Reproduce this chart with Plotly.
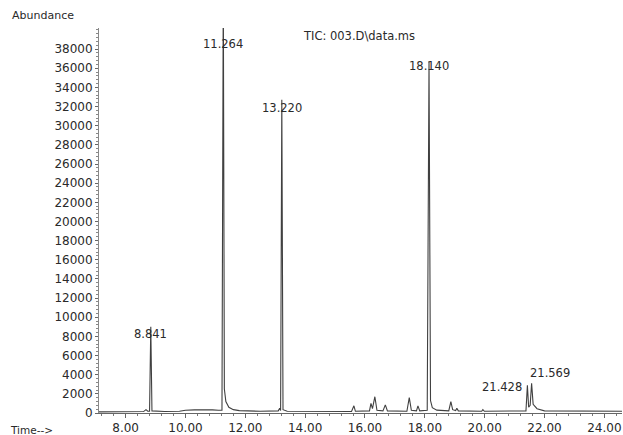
import plotly.graph_objects as go

# Chromatogram trace (time in min, abundance)
times = [7.11, 8.60, 8.68, 8.74, 8.80, 8.841, 8.88, 9.30, 9.80, 10.00, 10.30, 10.60, 10.90,
         11.10, 11.22, 11.264, 11.30, 11.35, 11.45, 11.60, 11.80, 12.50, 13.10, 13.15, 13.18,
         13.220, 13.26, 13.40, 15.55, 15.63, 15.68, 16.15, 16.20, 16.25, 16.33, 16.40, 16.60,
         16.68, 16.75, 17.40, 17.48, 17.55, 17.72, 17.77, 17.83, 18.08, 18.140, 18.19, 18.25,
         18.40, 18.80, 18.87, 18.93, 19.03, 19.07, 19.12, 19.90, 19.94, 19.99, 21.38, 21.428,
         21.47, 21.52, 21.569, 21.62, 21.75, 22.00, 24.59]
abundance = [120, 150, 350, 180, 180, 9000, 220, 150, 180, 280, 330, 360, 330,
             280, 300, 45000, 2500, 1200, 600, 350, 250, 180, 220, 500, 250,
             32700, 350, 180, 160, 750, 180, 220, 1000, 450, 1700, 280, 220,
             850, 220, 180, 1600, 280, 220, 750, 220, 280, 36700, 1300, 550,
             300, 220, 1200, 350, 250, 500, 220, 180, 350, 180, 220, 2900,
             600, 800, 3100, 900, 450, 220, 180]

peak_times = [8.841, 11.264, 13.220, 18.140, 21.428, 21.569]
peak_labels = ["8.841", "11.264", "13.220", "18.140", "21.428", "21.569"]
peak_heights = [9000, 45000, 32700, 36700, 2900, 3100]

y_ticks = list(range(0, 40000, 2000))
x_ticks = [8, 10, 12, 14, 16, 18, 20, 22, 24]
x_tick_labels = ["8.00", "10.00", "12.00", "14.00", "16.00", "18.00", "20.00", "22.00", "24.00"]

XMIN, XMAX = 7.11, 24.59
YMIN, YMAX = 0, 40200
W, H = 623, 435
ML, MR, MT, MB = 99, 1, 28, 22

FONT = "DejaVu Sans"
TXT = "#2a2a2a"

fig = go.Figure()
fig.add_trace(go.Scatter(x=times, y=abundance, mode="lines",
                         line=dict(color="#404040", width=1.1),
                         hoverinfo="skip", showlegend=False))

# label placement (styling): offsets in pixels
label_style = [
    dict(xanchor="center", yshift=-7, xshift=0),
    dict(xanchor="center", yshift=0, xshift=0),
    dict(xanchor="center", yshift=-8, xshift=0),
    dict(xanchor="center", yshift=-4, xshift=0),
    dict(xanchor="right", yshift=-2, xshift=-3),
    dict(xanchor="left", yshift=10, xshift=-4),
]
for t, lab, h, st in zip(peak_times, peak_labels, peak_heights, label_style):
    yv = min(h, 38540)
    fig.add_annotation(x=t, y=yv, text=lab, showarrow=False, xref="x", yref="y",
                       xanchor=st["xanchor"], yanchor="middle",
                       xshift=st["xshift"], yshift=st["yshift"],
                       font=dict(family=FONT, size=11.5, color=TXT))

pw = W - ML - MR
ph = H - MT - MB
def px(xp):
    return (xp - ML) / pw
def py(yp):
    return (H - MB - yp) / ph

fig.add_annotation(x=px(10), y=py(15), xref="paper", yref="paper", text="Abundance",
                   showarrow=False, xanchor="left", yanchor="middle",
                   font=dict(family=FONT, size=11, color=TXT))
fig.add_annotation(x=px(8), y=py(430), xref="paper", yref="paper", text="Time-->",
                   showarrow=False, xanchor="left", yanchor="middle",
                   font=dict(family=FONT, size=10.5, color=TXT))
fig.add_annotation(x=px(301), y=py(36), xref="paper", yref="paper", text="TIC: 003.D\\data.ms",
                   showarrow=False, xanchor="left", yanchor="middle",
                   font=dict(family=FONT, size=11.5, color=TXT))

fig.update_layout(
    width=W, height=H,
    margin=dict(l=ML, r=MR, t=MT, b=MB, pad=0),
    paper_bgcolor="white", plot_bgcolor="white",
    showlegend=False,
)
fig.update_xaxes(range=[XMIN, XMAX], tickmode="array", tickvals=x_ticks, ticktext=x_tick_labels,
                 ticks="outside", ticklen=4, tickcolor="#666", tickwidth=1,
                 minor=dict(dtick=0.4, tick0=8, ticks="outside", ticklen=2, tickcolor="#777"),
                 showline=True, linecolor="#666", linewidth=1, showgrid=False, zeroline=False,
                 tickfont=dict(family=FONT, size=12, color=TXT))
fig.update_yaxes(range=[YMIN, YMAX], tickmode="array", tickvals=y_ticks,
                 ticktext=[str(v) for v in y_ticks],
                 ticks="outside", ticklen=3, tickcolor="#666", tickwidth=1,
                 minor=dict(dtick=400, tick0=0, ticks="outside", ticklen=2, tickcolor="#888"),
                 showline=True, linecolor="#888", linewidth=1, showgrid=False, zeroline=False,
                 tickfont=dict(family=FONT, size=12, color=TXT))

fig.write_html("out.html", config={"displayModeBar": False},
               post_script="document.body.style.margin='0';document.body.style.padding='0';document.body.style.overflow='hidden';")
